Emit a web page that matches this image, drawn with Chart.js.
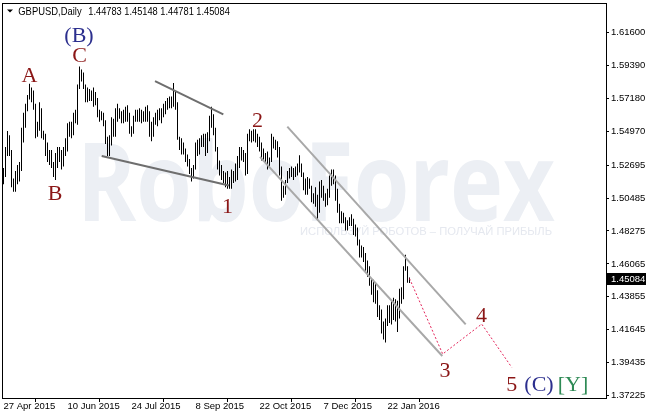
<!DOCTYPE html>
<html>
<head>
<meta charset="utf-8">
<script src="https://cdn.jsdelivr.net/npm/chart.js@4.4.1/dist/chart.umd.min.js"></script>
<style>
html,body{margin:0;padding:0;background:#fff;}
#wrap{width:646px;height:414px;position:relative;}
</style>
</head>
<body>
<div id="wrap"><canvas id="c" width="646" height="414"></canvas></div>
<script>
// ---------------- DATA ----------------
const symbolTitle = 'GBPUSD,Daily';
const lastBarOHLC = [1.44783, 1.45148, 1.44781, 1.45084];
const firstDate = '2015-04-27';
const missingDays = ['2015-12-25', '2016-01-01'];

const highs = [
1.5250,1.5390,1.5498,1.5470,1.5370,1.5180,1.5230,1.5270,1.5290,1.5520,
1.5620,1.5680,1.5740,1.5815,1.5790,1.5770,1.5680,1.5560,1.5690,1.5650,
1.5500,1.5480,1.5420,1.5370,1.5370,1.5290,1.5350,1.5390,1.5390,1.5370,
1.5390,1.5450,1.5550,1.5560,1.5560,1.5620,1.5640,1.5810,1.5930,1.5910,
1.5890,1.5810,1.5790,1.5780,1.5770,1.5790,1.5760,1.5720,1.5640,1.5630,
1.5620,1.5570,1.5460,1.5470,1.5590,1.5580,1.5650,1.5680,1.5650,1.5630,
1.5640,1.5660,1.5670,1.5620,1.5530,1.5600,1.5640,1.5640,1.5650,1.5640,
1.5630,1.5660,1.5670,1.5630,1.5560,1.5590,1.5620,1.5640,1.5650,1.5650,
1.5680,1.5700,1.5720,1.5730,1.5730,1.5820,1.5760,1.5690,1.5460,1.5450,
1.5420,1.5380,1.5340,1.5310,1.5250,1.5270,1.5420,1.5440,1.5450,1.5470,
1.5480,1.5480,1.5490,1.5600,1.5660,1.5610,1.5520,1.5390,1.5300,1.5270,
1.5230,1.5220,1.5230,1.5190,1.5240,1.5230,1.5280,1.5330,1.5390,1.5390,
1.5370,1.5350,1.5480,1.5510,1.5500,1.5510,1.5510,1.5480,1.5460,1.5420,
1.5380,1.5350,1.5360,1.5320,1.5480,1.5460,1.5440,1.5430,1.5390,1.5260,
1.5130,1.5170,1.5230,1.5250,1.5260,1.5250,1.5260,1.5280,1.5335,1.5280,
1.5220,1.5180,1.5190,1.5180,1.5130,1.5080,1.5120,1.5070,1.5160,1.5170,
1.5130,1.5080,1.5110,1.5200,1.5240,1.5240,1.5200,1.5110,1.5010,1.4960,
1.4950,1.4920,1.4900,1.4920,1.4940,1.4910,1.4870,1.4850,1.4770,1.4730,
1.4720,1.4680,1.4630,1.4590,1.4510,1.4500,1.4480,1.4430,1.4330,1.4300,
1.4220,1.4240,1.4330,1.4330,1.4360,1.4380,1.4370,1.4360,1.4440,1.4450,
1.4590,1.4668,1.4590,1.45148
];
const lows = [
1.5140,1.5190,1.5330,1.5330,1.5120,1.5090,1.5090,1.5140,1.5160,1.5230,
1.5420,1.5520,1.5630,1.5710,1.5690,1.5640,1.5450,1.5460,1.5500,1.5450,
1.5440,1.5330,1.5290,1.5270,1.5250,1.5190,1.5170,1.5250,1.5290,1.5240,
1.5260,1.5330,1.5360,1.5460,1.5450,1.5470,1.5550,1.5540,1.5780,1.5830,
1.5780,1.5690,1.5690,1.5700,1.5700,1.5660,1.5670,1.5590,1.5560,1.5570,
1.5530,1.5410,1.5330,1.5330,1.5400,1.5460,1.5460,1.5560,1.5580,1.5550,
1.5550,1.5560,1.5560,1.5480,1.5460,1.5480,1.5560,1.5560,1.5560,1.5550,
1.5560,1.5560,1.5560,1.5460,1.5430,1.5460,1.5540,1.5530,1.5570,1.5550,
1.5590,1.5610,1.5640,1.5650,1.5650,1.5660,1.5640,1.5440,1.5370,1.5340,
1.5340,1.5290,1.5260,1.5210,1.5160,1.5180,1.5240,1.5330,1.5340,1.5390,
1.5390,1.5330,1.5350,1.5430,1.5520,1.5470,1.5360,1.5240,1.5200,1.5170,
1.5150,1.5120,1.5110,1.5110,1.5110,1.5150,1.5160,1.5170,1.5250,1.5300,
1.5290,1.5200,1.5210,1.5430,1.5420,1.5430,1.5420,1.5390,1.5360,1.5300,
1.5300,1.5290,1.5240,1.5260,1.5290,1.5380,1.5370,1.5320,1.5200,1.5030,
1.5050,1.5070,1.5150,1.5180,1.5190,1.5170,1.5190,1.5200,1.5220,1.5190,
1.5100,1.5070,1.5070,1.5110,1.5020,1.5010,1.4990,1.4900,1.4950,1.5050,
1.5030,1.4990,1.5000,1.5050,1.5130,1.5140,1.5030,1.4950,1.4880,1.4880,
1.4880,1.4830,1.4830,1.4860,1.4860,1.4800,1.4790,1.4730,1.4650,1.4650,
1.4620,1.4560,1.4520,1.4460,1.4400,1.4350,1.4340,1.4250,1.4230,1.4140,
1.4100,1.4080,1.4190,1.4210,1.4200,1.4230,1.4220,1.4150,1.4240,1.4340,
1.4370,1.4560,1.4480,1.44781
];

const xTickLabels = ['27 Apr 2015','10 Jun 2015','24 Jul 2015','8 Sep 2015','22 Oct 2015','7 Dec 2015','22 Jan 2016'];
const yTickValues = [1.37225,1.39435,1.41645,1.43855,1.46065,1.48275,1.50485,1.52695,1.54970,1.57180,1.59390,1.61600];

// trend lines (bar index, price)
const triUpperIdx = [75.75, 109.9];   const triUpperVal = [1.5833, 1.5610];
const triLowerIdx = [49.1, 112.75];   const triLowerVal = [1.5330, 1.5133];
const chanUpperIdx = [141.9, 231.1];  const chanUpperVal = [1.5527, 1.4201];
const chanLowerIdx = [128.25, 219.4]; const chanLowerVal = [1.5324, 1.3989];
// projected path
const projIdx = [203, 219.6, 239.1, 254.1];
const projVal = [1.45084, 1.4002, 1.4203, 1.3913];

// wave labels (text, bar index of centre, price at baseline)
const waveText = ['(B)','C','A','B','1','2','3','4','5','(C)','[Y]'];
const waveIdx  = [37.75, 38, 13, 25.75, 112, 127, 220.75, 239, 254.1, 267.75, 284.75];
const waveVal  = [1.6097, 1.5963, 1.5827, 1.5035, 1.4948, 1.5527, 1.3845, 1.4214, 1.3751, 1.3751, 1.3751];

const watermarkText = 'RoboForex';
const sloganText = 'ИСПОЛЬЗУЙ РОБОТОВ – ПОЛУЧАЙ ПРИБЫЛЬ';

// ---------------- BUILD ----------------
const MONTHS = ['Jan','Feb','Mar','Apr','May','Jun','Jul','Aug','Sep','Oct','Nov','Dec'];
function buildDates(start, n, skip) {
  const out = [];
  const d = new Date(start + 'T00:00:00Z');
  while (out.length < n) {
    const wd = d.getUTCDay();
    const iso = d.toISOString().slice(0, 10);
    if (wd !== 0 && wd !== 6 && skip.indexOf(iso) < 0) {
      out.push(d.getUTCDate() + ' ' + MONTHS[d.getUTCMonth()] + ' ' + d.getUTCFullYear());
    }
    d.setUTCDate(d.getUTCDate() + 1);
  }
  return out;
}
const dates = buildDates(firstDate, highs.length, missingDays);
const xTickValues = xTickLabels.map(l => dates.indexOf(l));

const barData = highs.map((h, i) => ({ x: i, y: [lows[i], h] }));
const pts = (xs, ys) => xs.map((x, i) => ({ x: x, y: ys[i] }));

const AXIS_FONT = '"Liberation Sans", Arial, sans-serif';

const deco = {
  id: 'deco',
  beforeDatasetsDraw(chart) {
    const ctx = chart.ctx;
    ctx.save();
    ctx.fillStyle = '#eceff4';
    ctx.font = '700 110px "Open Sans", "DejaVu Sans", sans-serif';
    ctx.textBaseline = 'alphabetic';
    const w = ctx.measureText(watermarkText).width;
    ctx.translate(77, 221);
    ctx.scale(478 / w, 1);
    ctx.fillText(watermarkText, 0, 0);
    ctx.restore();
    ctx.save();
    ctx.fillStyle = '#e5e8ef';
    ctx.font = '11px ' + AXIS_FONT;
    ctx.textBaseline = 'middle';
    const sw = ctx.measureText(sloganText).width;
    ctx.translate(300, 232);
    ctx.scale(252 / sw, 1);
    ctx.fillText(sloganText, 0, 0);
    ctx.restore();
  },
  afterDatasetsDraw(chart) {
    const ctx = chart.ctx;
    const xs = chart.scales.x, ys = chart.scales.y;
    ctx.save();
    ctx.font = '22px "Liberation Serif", "Times New Roman", serif';
    ctx.textAlign = 'center';
    ctx.textBaseline = 'alphabetic';
    waveText.forEach((t, i) => {
      let col = '#8b1616';
      if (t[0] === '(') col = '#2c2f8e';
      else if (t[0] === '[') col = '#2e8a55';
      ctx.fillStyle = col;
      ctx.fillText(t, xs.getPixelForValue(waveIdx[i]), ys.getPixelForValue(waveVal[i]));
    });
    ctx.restore();
  },
  afterDraw(chart) {
    const ctx = chart.ctx;
    const ca = chart.chartArea;
    const ys = chart.scales.y;
    ctx.save();
    ctx.strokeStyle = '#000';
    ctx.lineWidth = 1;
    ctx.strokeRect(ca.left + 0.5, ca.top + 0.5, ca.right - ca.left, ca.bottom - ca.top);
    ctx.fillStyle = '#000';
    ctx.beginPath();
    ctx.moveTo(7, 9.5); ctx.lineTo(13, 9.5); ctx.lineTo(10, 12.5); ctx.closePath();
    ctx.fill();
    ctx.font = '10.5px ' + AXIS_FONT;
    ctx.textBaseline = 'alphabetic';
    ctx.save();
    ctx.translate(18.3, 15);
    const tw = ctx.measureText(symbolTitle).width;
    ctx.scale(63.3 / tw, 1);
    ctx.fillText(symbolTitle, 0, 0);
    ctx.restore();
    const vals = lastBarOHLC.map(v => v.toFixed(5)).join(' ');
    ctx.save();
    ctx.translate(88.3, 15);
    const vw = ctx.measureText(vals).width;
    ctx.scale(141.5 / vw, 1);
    ctx.fillText(vals, 0, 0);
    ctx.restore();
    const py = ys.getPixelForValue(lastBarOHLC[3]);
    ctx.fillStyle = '#000';
    ctx.fillRect(ca.right + 1, Math.round(py) - 6, 646 - ca.right - 1, 12);
    ctx.fillStyle = '#fff';
    ctx.font = '9.5px ' + AXIS_FONT;
    ctx.textBaseline = 'middle';
    ctx.fillText(lastBarOHLC[3].toFixed(5), ca.right + 5, Math.round(py));
    ctx.restore();
  }
};

const lineDs = (data, color, width, dash) => ({
  type: 'line', data: data, borderColor: color, borderWidth: width,
  borderDash: dash || [], pointRadius: 0, tension: 0, fill: false, order: 1
});

new Chart(document.getElementById('c'), {
  type: 'bar',
  data: {
    datasets: [
      lineDs(pts(projIdx, projVal), '#e3245a', 1, [2, 2]),
      lineDs(pts(triUpperIdx, triUpperVal), '#6e6e6e', 2),
      lineDs(pts(triLowerIdx, triLowerVal), '#6e6e6e', 2),
      lineDs(pts(chanUpperIdx, chanUpperVal), '#a8a8a8', 2),
      lineDs(pts(chanLowerIdx, chanLowerVal), '#a8a8a8', 2),
      {
        type: 'bar', data: barData, backgroundColor: '#000', borderWidth: 0,
        barThickness: 1, inflateAmount: 0, borderSkipped: false, order: 5
      }
    ]
  },
  options: {
    responsive: false, maintainAspectRatio: false, animation: false,
    devicePixelRatio: 1, events: [],
    layout: { padding: { left: 2, top: 3, right: 0, bottom: 0 } },
    plugins: { legend: { display: false }, tooltip: { enabled: false }, title: { display: false } },
    scales: {
      x: {
        type: 'linear', position: 'bottom', min: -0.75, max: 301.25, offset: false,
        afterFit(s) { s.height = 16; s.paddingLeft = 0; s.paddingRight = 0; },
        afterBuildTicks(s) { s.ticks = xTickValues.map(v => ({ value: v })); },
        grid: { display: true, drawOnChartArea: false, drawTicks: true, tickLength: 4, color: '#000' },
        border: { display: true, color: '#000', width: 1 },
        ticks: {
          autoSkip: false, maxRotation: 0, minRotation: 0, align: 'start', padding: 0,
          color: '#000', font: { family: AXIS_FONT, size: 9.5, lineHeight: 1 },
          callback: (v, i) => xTickLabels[i]
        }
      },
      y: {
        type: 'linear', position: 'right', min: 1.37071, max: 1.63565,
        afterFit(s) { s.width = 40; s.paddingTop = 0; s.paddingBottom = 0; },
        afterBuildTicks(s) { s.ticks = yTickValues.map(v => ({ value: v })); },
        grid: { display: true, drawOnChartArea: false, drawTicks: true, tickLength: 3, color: '#000' },
        border: { display: true, color: '#000', width: 1 },
        ticks: {
          padding: 2, color: '#000', font: { family: AXIS_FONT, size: 9.5, lineHeight: 1 },
          callback: v => Number(v).toFixed(5)
        }
      }
    }
  },
  plugins: [deco]
});
</script>
</body>
</html>
